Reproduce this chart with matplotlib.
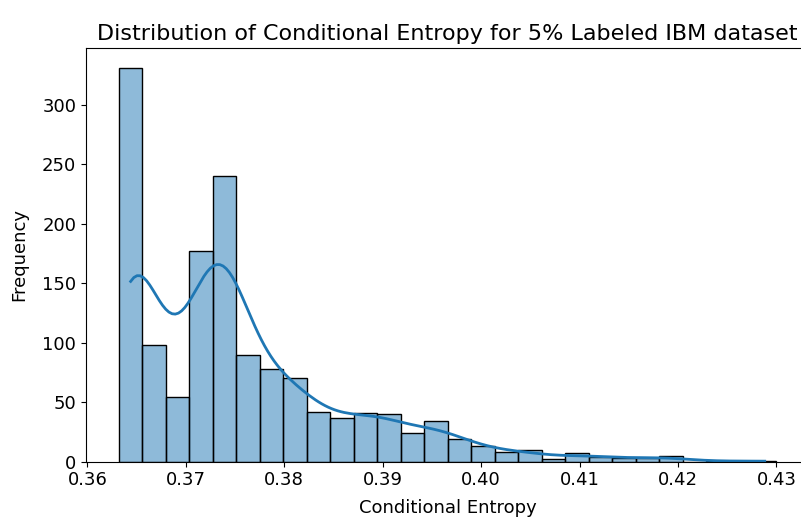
import matplotlib
matplotlib.use("Agg")
import matplotlib.pyplot as plt
import numpy as np
import pandas as pd
import seaborn as sns

# histogram: 28 equal bins between data min and max
x_min = 0.3632
x_max = 0.4300
n_bins = 28
counts = [331, 98, 54, 177, 240, 90, 78, 70, 42, 37, 41, 40, 24, 34,
          19, 13, 8, 10, 2, 7, 4, 3, 3, 5, 0, 1, 0, 1]
xticks = [0.36, 0.37, 0.38, 0.39, 0.40, 0.41, 0.42, 0.43]

title = "Distribution of Conditional Entropy for 5% Labeled IBM dataset"

plt.rcParams['font.family'] = ['DejaVu Sans']
plt.rcParams['font.size'] = 13

edges = np.linspace(x_min, x_max, n_bins + 1)
centers = (edges[:-1] + edges[1:]) / 2
# one observation per counted item, placed at its bin centre
df = pd.DataFrame({"entropy": np.repeat(centers, counts)})

fig = plt.figure(figsize=(8.01, 5.18), dpi=100)
ax = fig.add_axes([0.1074, 0.1087, 0.903, 0.7987])

sns.histplot(data=df, x="entropy", bins=n_bins, binrange=(x_min, x_max),
             kde=True, ax=ax, edgecolor="black", linewidth=1.0,
             line_kws={"linewidth": 2})

ax.set_xticks(xticks)
ax.set_xticklabels(["%.2f" % t for t in xticks])
ax.set_xlabel("Conditional Entropy", labelpad=7)
ax.set_ylabel("Frequency", labelpad=10)
ax.set_title(title, fontsize=16)

fig.savefig("out.png", dpi=100)
